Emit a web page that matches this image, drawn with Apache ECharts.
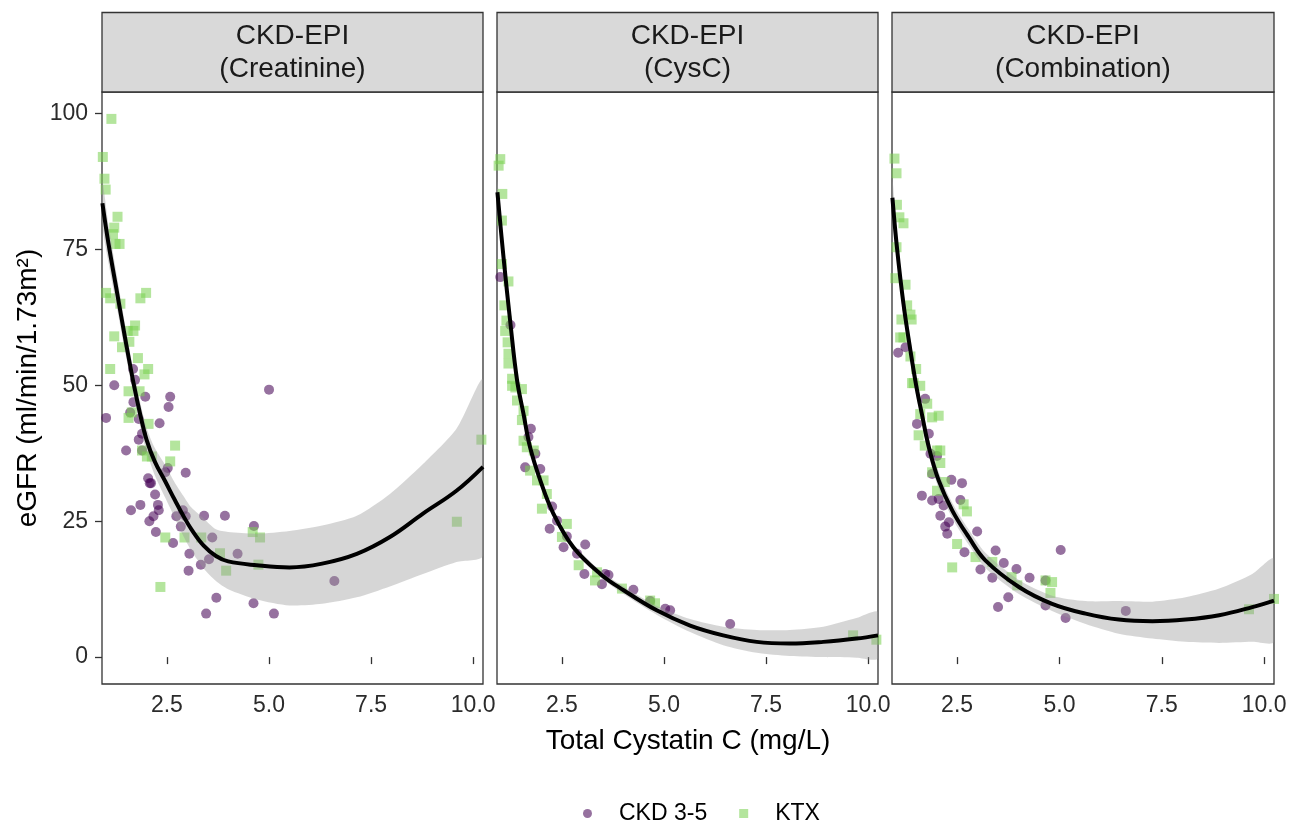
<!DOCTYPE html>
<html>
<head>
<meta charset="utf-8">
<script src="https://cdn.jsdelivr.net/npm/echarts@6/dist/echarts.min.js"></script>
<style>html,body{margin:0;padding:0;background:#fff}#c{width:1303px;height:825px}</style>
</head>
<body>
<div id="c"></div>
<script>
// ---------- data ----------
var panelTitles = ['CKD-EPI\n(Creatinine)', 'CKD-EPI\n(CysC)', 'CKD-EPI\n(Combination)'];
var xTicks = [2.5, 5, 7.5, 10];
var yTicks = [0, 25, 50, 75, 100];

var creatCkd = [[1.21,50],[1.67,53],[1.72,51],[5.0,49.2],[1.01,44],[1.97,47.9],[2.58,47.9],[2.54,46],[1.68,46.9],[1.60,45],[1.81,43.8],[2.32,43],[1.89,41.1],[1.81,40],[1.50,38],[1.89,38],[2.46,34],[2.96,33.9],[2.52,34.8],[2.04,32.9],[2.11,32],[2.08,32],[2.21,29.9],[2.28,28],[2.30,27],[1.85,28],[1.62,27],[2.17,25.9],[2.07,25],[2.23,23],[2.65,21],[2.89,27],[2.73,25.9],[2.96,25.9],[2.84,24],[3.41,26],[3.92,26],[4.63,24.1],[3.61,22],[3.05,19],[4.23,19],[3.53,18],[3.33,17],[3.03,15.9],[6.60,14],[3.71,10.9],[4.62,9.9],[3.46,8],[5.12,8]];
var creatKtx = [[1.14,99],[0.93,92],[0.97,88],[1.0,86],[1.29,81],[1.21,79],[1.18,77.8],[1.24,76],[1.34,76],[1.01,67],[1.11,66],[1.36,65],[1.99,67],[1.85,66],[1.21,59],[1.40,57],[1.58,58],[1.72,61],[1.68,60],[1.54,60],[1.79,55],[1.11,53],[2.04,53],[1.95,52],[1.56,48.9],[1.83,48.9],[1.56,44],[1.64,45],[2.05,42.9],[2.70,38.9],[1.89,38],[2.01,36.9],[2.13,36.9],[2.58,36],[2.46,22],[2.93,22],[3.34,22],[3.80,19.1],[3.95,15.9],[4.60,23],[4.78,22],[4.74,17],[2.34,12.9],[9.60,24.9],[10.2,40]];
var cysCkd = [[0.99,69.9],[1.24,61.1],[1.74,42],[1.68,40.5],[1.60,34.9],[1.97,34.6],[1.85,37.4],[2.26,27.7],[2.38,25.1],[2.20,23.6],[2.62,22.2],[2.54,20.2],[3.07,20.7],[2.87,19],[3.05,15.3],[3.56,15.3],[3.64,15.1],[3.48,13.4],[4.25,12.4],[5.03,8.9],[5.15,8.6],[4.66,10.3],[6.62,6.1]];
var cysKtx = [[0.99,91.6],[0.95,90.4],[1.04,85.2],[1.03,80.3],[1.03,72.3],[1.19,69.1],[1.09,64.7],[1.14,61.9],[1.11,60],[1.17,57.9],[1.19,55.8],[1.19,54],[1.28,51.2],[1.36,49.6],[1.52,49.3],[1.28,49.9],[1.40,47.2],[1.56,45.3],[1.52,43.6],[1.56,39.8],[1.64,38.6],[1.81,38],[1.72,34.3],[1.89,32.5],[2.05,32.5],[2.13,30],[2.01,27.3],[2.62,24.5],[2.50,22.1],[2.91,16.9],[3.36,15.6],[3.31,14.1],[3.97,12.6],[4.66,10.4],[4.78,9.9],[9.63,4.0],[10.2,3.2]];
var combCkd = [[1.06,56],[1.24,57],[1.52,42.9],[1.72,47.5],[1.81,41.1],[1.85,37.4],[2.01,37],[1.89,33.7],[2.36,32.6],[2.62,32],[1.64,29.7],[1.89,28.8],[2.05,29.1],[2.17,27.9],[2.58,28.9],[2.09,26],[2.30,24.8],[2.21,24],[2.26,22.7],[2.99,23.1],[2.68,19.3],[3.07,16.1],[3.44,19.6],[3.64,17.3],[3.95,16.2],[3.36,14.6],[4.27,14.6],[3.75,11.0],[3.50,9.2],[4.66,9.5],[5.03,19.7],[5.15,7.2],[6.62,8.5],[4.66,14.1]];
var combKtx = [[0.97,91.7],[1.02,89],[1.03,83.2],[1.09,80.9],[1.19,79.8],[1.02,75.4],[0.99,69.7],[1.24,68.5],[1.28,64.7],[1.36,63],[1.39,62.1],[1.14,62.1],[1.11,58.8],[1.19,58.8],[1.36,55.3],[1.50,53],[1.44,50.4],[1.60,49.9],[1.40,50.4],[1.77,46.6],[1.60,44.7],[1.89,44.1],[2.05,44.4],[1.56,40.8],[1.71,38.9],[2.01,38],[2.09,38],[2.09,35.7],[1.89,34],[2.20,32.2],[2.01,30.6],[2.66,28.1],[2.74,26.8],[2.50,20.8],[2.38,16.5],[2.95,18.4],[3.36,17.5],[3.83,14.7],[3.97,13.2],[4.66,14.1],[4.82,13.8],[4.78,11.8],[9.63,8.8],[10.24,10.7]];

// smooth fits and confidence bands
var creatFitX = [0.92,1.07,1.28,1.48,1.68,1.85,2.0,2.2,2.46,2.7,2.9,3.1,3.4,3.7,4.0,4.7,5.5,6.3,7.15,7.96,8.77,9.59,10.24];
var creatFit  = [83.5,76,67,58.5,50.5,44.5,40,36,32.3,28.8,26,23.5,20.5,18.6,17.6,16.9,16.5,17.2,19,22.1,26.4,30.6,35];
var creatLo   = [79.5,72.5,64.1,56,48.3,42.3,37.8,33.5,29.3,25.5,22.3,19.5,16.3,14,12.5,10.6,9.5,9.8,11,13,15.3,17.5,18.7];
var creatHi   = [87.5,79.5,69.9,61,52.7,46.7,42.2,38.5,35.3,32,29.7,27.5,25.5,23.5,23,22.7,23.2,24.2,26,30,35.5,42,51];

var cysFitX = [0.92,1.07,1.24,1.40,1.56,1.72,1.97,2.29,2.78,3.44,4.01,4.82,5.64,6.45,7.27,8.08,8.9,9.71,10.24];
var cysFit  = [85.5,73.5,61.3,51,44.7,38.6,32.5,26.4,20.2,15.3,12.3,8.6,5.8,4.0,2.8,2.5,2.8,3.4,4.0];
var cysLo   = [83.5,72,60,50,43.8,37.8,31.8,25.8,19.6,14.7,11.6,7.8,4.6,2.2,0.8,0.2,0.0,-0.1,-0.2];
var cysHi   = [87.5,75,62.6,52,45.6,39.4,33.2,27,20.8,15.9,13.0,9.4,7.0,5.6,5.0,5.0,5.6,7.2,8.3];

var combFitX = [0.92,1.03,1.19,1.36,1.50,1.64,1.81,2.05,2.38,2.78,3.19,4.01,4.82,5.64,6.45,7.27,8.08,8.9,9.71,10.24];
var combFit  = [84.5,75.4,65,56.4,50,44.7,38.6,32.5,27.0,22.1,17.8,12.9,9.8,8.0,6.9,6.6,6.9,7.7,9.2,10.4];
var combLo   = [81,72.8,62.8,54.4,48.1,43,37,31,25.6,20.7,16.4,11.6,8.5,6.1,4.3,3.4,2.8,2.6,2.8,2.8];
var combHi   = [88,78,67.2,58.4,51.9,46.4,40.2,34,28.4,23.5,19.2,14.2,11.3,10.3,10.3,10.2,11.0,12.6,15.3,18.1];

// ---------- layout ----------
var FONT = '"Liberation Sans", Arial, Helvetica, sans-serif';
var grids = [
  {left: 102, top: 92, width: 381, height: 592},
  {left: 497, top: 92, width: 381, height: 592},
  {left: 892, top: 92, width: 382, height: 592}
];
var panels = [
  {ckd: creatCkd, ktx: creatKtx, fx: creatFitX, f: creatFit, lo: creatLo, hi: creatHi},
  {ckd: cysCkd, ktx: cysKtx, fx: cysFitX, f: cysFit, lo: cysLo, hi: cysHi},
  {ckd: combCkd, ktx: combKtx, fx: combFitX, f: combFit, lo: combLo, hi: combHi}
];
var PURPLE = 'rgba(68,1,84,0.7)';
var GREEN = 'rgba(122,209,81,0.7)';
var TICKCOL = '#2b2b2b';

var option = {
  animation: false,
  backgroundColor: '#fff',
  textStyle: {fontFamily: FONT},
  grid: grids.map(function (g) {
    return {left: g.left, top: g.top, width: g.width, height: g.height, show: true,
      borderColor: '#333', borderWidth: 1.3, backgroundColor: 'transparent', containLabel: false};
  }),
  xAxis: grids.map(function (g, i) {
    return {type: 'value', gridIndex: i, min: 0.91, max: 10.24,
      axisLine: {show: false}, splitLine: {show: false},
      axisTick: {show: true, customValues: xTicks, length: 7, lineStyle: {color: '#333', width: 1.3}},
      axisLabel: {customValues: xTicks, fontSize: 23, color: TICKCOL, margin: 10, fontFamily: FONT,
        formatter: function (v) { return v.toFixed(1); }}};
  }),
  yAxis: grids.map(function (g, i) {
    return {type: 'value', gridIndex: i, min: -4.95, max: 103.95,
      axisLine: {show: false}, splitLine: {show: false},
      axisTick: {show: i === 0, customValues: yTicks, length: 7, lineStyle: {color: '#333', width: 1.3}},
      axisLabel: {show: i === 0, customValues: yTicks, fontSize: 23, color: TICKCOL, margin: 14, fontFamily: FONT}};
  }),
  legend: {
    left: 578, top: 797, itemWidth: 9, itemHeight: 9, itemGap: 32,
    textStyle: {fontSize: 23, color: '#000', fontFamily: FONT, padding: [0, 0, 0, 22]},
    data: [{name: 'CKD 3-5', icon: 'circle'}, {name: 'KTX', icon: 'rect'}]
  },
  series: [],
  graphic: []
};

function bandRenderer(p) {
  return function (params, api) {
    if (params.dataIndex !== 0) return null;
    var up = [], dn = [];
    for (var k = 0; k < p.fx.length; k++) {
      up.push(api.coord([p.fx[k], p.hi[k]]));
      dn.push(api.coord([p.fx[k], p.lo[k]]));
    }
    dn.reverse();
    return {
      type: 'group',
      children: [{
        type: 'polygon',
        shape: {points: up.concat(dn), smooth: 0.25},
        style: {fill: 'rgba(153,153,153,0.4)', stroke: null}
      }]
    };
  };
}

panels.forEach(function (p, i) {
  option.series.push({
    type: 'scatter', name: 'CKD 3-5', xAxisIndex: i, yAxisIndex: i, symbol: 'circle', symbolSize: 10,
    itemStyle: {color: PURPLE}, data: p.ckd, z: 2
  });
  option.series.push({
    type: 'scatter', name: 'KTX', xAxisIndex: i, yAxisIndex: i, symbol: 'rect', symbolSize: 10,
    itemStyle: {color: GREEN}, data: p.ktx, z: 2
  });
  option.series.push({
    type: 'custom', xAxisIndex: i, yAxisIndex: i, clip: true, silent: true, z: 3,
    renderItem: bandRenderer(p),
    data: [[p.fx[0], p.f[0]]]
  });
  option.series.push({
    type: 'line', xAxisIndex: i, yAxisIndex: i, smooth: 0.4,
    showSymbol: false, symbol: 'none', lineStyle: {width: 4, color: '#000'},
    data: p.fx.map(function (x, k) { return [x, p.f[k]]; }), z: 4, silent: true
  });

  var g = grids[i];
  option.graphic.push({
    type: 'rect', shape: {x: g.left, y: 12.5, width: g.width, height: g.top - 12.5},
    style: {fill: '#D9D9D9', stroke: '#333', lineWidth: 1.3}, z: 10
  });
  option.graphic.push({
    type: 'text', x: g.left + g.width / 2, y: (12.5 + g.top) / 2 + 1,
    style: {text: panelTitles[i], fontSize: 28, lineHeight: 33, fill: '#1A1A1A', fontFamily: FONT,
      textAlign: 'center', textVerticalAlign: 'middle', align: 'center', verticalAlign: 'middle'}, z: 11
  });
});

option.graphic.push({
  type: 'text', x: 28, y: 388, rotation: Math.PI / 2,
  style: {text: 'eGFR (ml/min/1.73m\u00B2)', fontSize: 28, fill: '#000', fontFamily: FONT,
    textAlign: 'center', textVerticalAlign: 'middle', align: 'center', verticalAlign: 'middle'}
});
option.graphic.push({
  type: 'text', x: 688, y: 741,
  style: {text: 'Total Cystatin C (mg/L)', fontSize: 28, fill: '#000', fontFamily: FONT,
    textAlign: 'center', textVerticalAlign: 'middle', align: 'center', verticalAlign: 'middle'}
});

var chart = echarts.init(document.getElementById('c'), null, {renderer: 'canvas'});
chart.setOption(option);
</script>
</body>
</html>
